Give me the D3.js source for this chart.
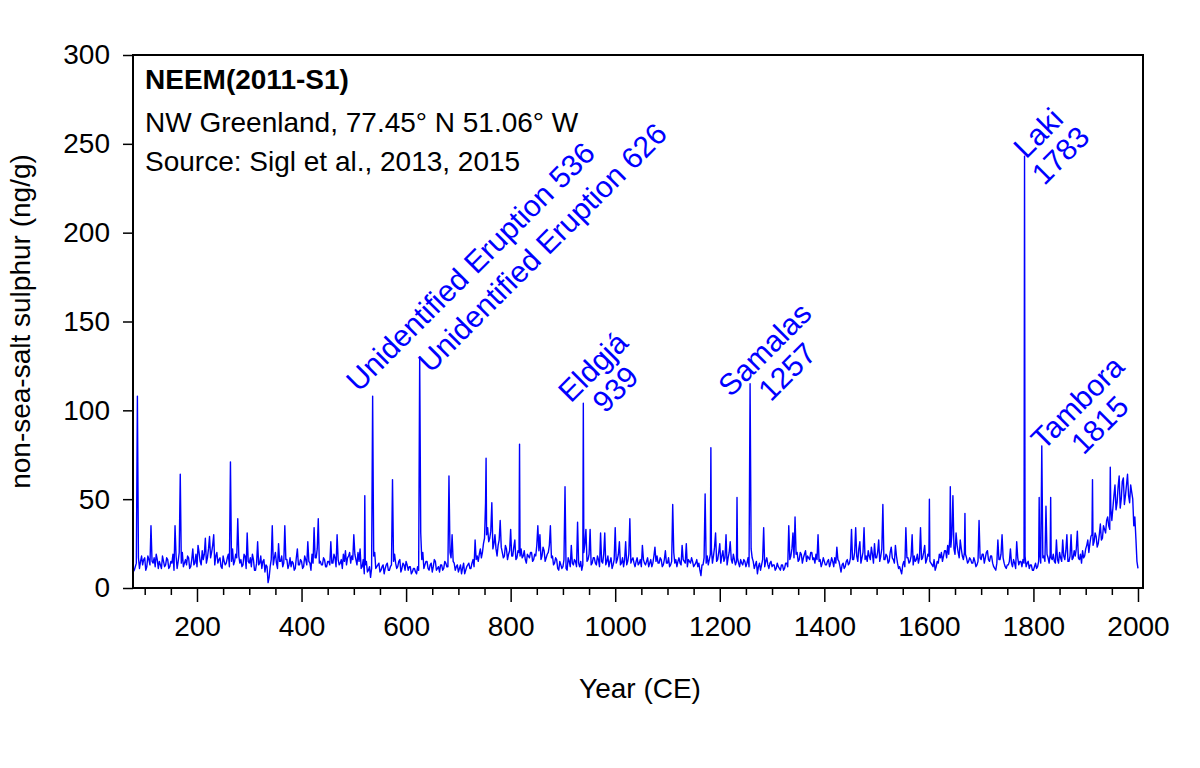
<!DOCTYPE html>
<html>
<head>
<meta charset="utf-8">
<script src="https://cdn.jsdelivr.net/npm/d3@7"></script>
<style>
  body { margin: 0; background: #fff; }
  text { font-family: "Liberation Sans", Arial, sans-serif; }
</style>
</head>
<body>
<div id="chart"></div>
<script>
// NEEM(2011-S1) nss sulphur
// readings every 4 years, one row per century (row start year in the name)
var r0080 = [10,14,17,15,13, 17,12,16,14,14, 12,16,15,11,15, 13,16,12,14,10, 18,15,18,20,14];
var r0180 = [13,17,12,22,14, 12,20,13,16,28, 17,29,20,30,18, 14,17,11,15,14, 19,20,22,15,17];
var r0280 = [18,16,13,18,31, 14,12,16,10,26, 14,11,16,13,3, 12,35,17,14,25, 15,12,35,16,13];
var r0380 = [12,14,11,22,13, 15,12,16,26,14, 19,34,17,39,15, 13,16,12,15,26, 14,17,30,13,16];
var r0480 = [19,21,17,20,18, 30,16,20,22,12, 8,15,10,6,14, 20,12,14,10,13, 11,14,10,13,15];
var r0580 = [14,12,16,11,13, 15,10,12,9,11, 8,10,31,20,13, 15,10,14,12,15, 11,9,13,11,14];
var r0680 = [12,20,30,14,12, 9,13,11,8,12, 14,11,16,27,18, 19,17,25,48,34, 28,48,25,22,24];
var r0780 = [38,20,18,22,19, 33,18,27,17,20, 22,18,16,19,17, 20,16,18,35,30, 18,21,17,20,35];
var r0880 = [18,14,16,10,13, 12,14,10,15,24, 13,15,37,12,10, 20,33,16,33,14, 17,13,16,31,14];
var r0980 = [31,15,12,17,13, 34,16,26,14,12, 26,15,39,16,14, 15,13,16,24,14, 15,12,16,14,23];
var r1080 = [18,14,16,13,21, 14,12,15,20,16, 15,14,24,15,25, 16,14,15,13,16, 14,7,13,15,18];
var r1180 = [16,22,18,31,16, 25,18,15,30,17, 26,14,16,15,14, 16,13,15,14,12, 22,15,13,8,14];
var r1280 = [13,34,15,13,14, 12,13,11,12,10, 13,11,14,35,18, 31,40,20,16,19, 17,21,18,16,20];
var r1380 = [17,19,30,16,14, 15,13,16,14,15, 17,23,15,9,14, 12,16,14,33,16, 34,15,26,17,34];
var r1480 = [18,21,16,19,25, 17,27,18,20,16, 18,15,23,16,24, 14,12,8,15,34, 17,15,30,18,16];
var r1580 = [14,34,17,24,16, 18,14,12,10,15, 19,20,18,21,24, 28,30,22,31,20, 27,18,20,17,15];
var r1680 = [16,14,15,13,38, 16,19,17,21,15, 18,12,10,27,16, 30,14,11,13,22, 12,14,26,13,15];
var r1780 = [16,18,14,11,13, 10,14,12,20,22, 18,20,17,19,16, 15,27,14,17,27, 16,30,15,30,17];
var r1880 = [18,32,16,14,17, 22,27,25,30,26, 29,25,36,28,33, 38,35,45,45,58, 48,63,50,62,52];
var r1980 = [64,48,54,35,28,11];

// in-between readings, 2 years after each of the above
var m0082 = [12,19,11,18,16, 10,18,13,15,17, 19,11,13,18,12, 17,11,15,19,13, 11,20,14,12,16];
var m0182 = [18,11,16,13,19, 24,15,21,19,14, 22,17,24,13,20, 16,12,18,13,17, 12,15,13,19,12];
var m0282 = [14,12,19,11,15, 17,19,10,14,13, 18,15,9,12,6, 16,13,20,11,15, 18,14,16,11,17];
var m0382 = [15,10,17,13,16, 11,18,13,15,10, 14,17,22,14,13, 17,12,15,13,14, 19,12,16,14,11];
var m0482 = [15,13,18,14,16, 19,13,15,11,16, 13,9,12,11,18, 11,13,9,12,8, 13,10,12,9,19];
var m0582 = [11,15,9,14,10, 13,12,8,11,9, 12,7,16,11,15, 11,13,9,16,10, 12,13,10,15,12];
var m0682 = [14,17,15,10,13, 11,8,14,10,13, 11,14,12,16,15, 22,20,28,30,26, 32,22,30,18,27];
var m0782 = [23,17,24,16,21, 18,23,16,21,18, 17,21,14,18,20, 15,19,24,21,16, 23,15,19,24,17];
var m0882 = [13,17,11,15,11, 16,11,17,12,14, 16,12,14,15,13, 25,15,19,13,17, 14,18,12,15,19];
var m0982 = [13,18,15,11,16, 14,19,13,17,16, 13,19,14,17,12, 17,14,12,16,13, 17,14,12,18,15];
var m1082 = [14,17,12,16,14, 17,13,16,14,12, 17,13,16,14,12, 15,17,12,14,12, 10,13,17,14,13];
var m1182 = [19,14,23,15,20, 14,21,17,13,20, 16,19,13,17,12, 14,16,12,17,13, 17,11,15,12,10];
var m1282 = [16,12,17,11,15, 13,10,14,11,13, 10,14,12,16,22, 17,19,15,20,14, 19,15,17,20,16];
var m1382 = [14,16,15,12,17, 13,15,12,17,12, 14,16,12,13,11, 15,13,17,16,20, 18,22,14,20,16];
var m1482 = [15,18,23,14,17, 20,15,22,16,19, 14,20,17,14,18, 11,10,13,12,17, 14,18,13,15,19];
var m1582 = [17,16,20,14,19, 15,13,16,12,14, 17,15,21,17,19, 23,26,19,24,17, 22,16,19,14,17];
var m1682 = [14,17,12,15,17, 19,14,20,16,18, 14,11,14,16,19, 17,12,13,15,14, 16,11,17,15,12];
var m1782 = [14,12,15,13,10, 12,11,15,14,17, 15,19,14,17,19, 14,16,20,15,18, 21,15,18,16,21];
var m1882 = [22,17,19,21,18, 24,20,29,24,31, 23,30,27,35,31, 40,33,38,52,44, 57,45,60,47,58];
var m1982 = [52,58,50,40,15];

var rows = [r0080,r0180,r0280,r0380,r0480,r0580,r0680,r0780,r0880,r0980,
            r1080,r1180,r1280,r1380,r1480,r1580,r1680,r1780,r1880,r1980];
var midRows = [m0082,m0182,m0282,m0382,m0482,m0582,m0682,m0782,m0882,m0982,
               m1082,m1182,m1282,m1382,m1482,m1582,m1682,m1782,m1882,m1982];
var rowStart = [80,180,280,380,480,580,680,780,880,980,
                1080,1180,1280,1380,1480,1580,1680,1780,1880,1980];
var rowStep = 4;

// single-year readings (volcanic peaks and the first year)
var annualYears  = [78, 86, 112, 158, 168, 264, 278, 521, 536, 574, 626, 682, 753, 817, 904, 939, 1110,
                    1172, 1183, 1233, 1258, 1512, 1601, 1641, 1646, 1669, 1783, 1811, 1816, 1824, 1833, 1913, 1947];
var annualValues = [9, 108, 35, 35, 64, 71, 39, 52, 108, 61, 130, 63, 73, 81, 57, 104, 47,
                    53, 79, 51, 115, 47, 50, 57, 52, 42, 243, 51, 80, 46, 51, 61, 68];

var eventText = [["Unidentified Eruption 536"], ["Unidentified Eruption 626"], ["Eldgjá","939"],
                 ["Samalas","1257"], ["Laki","1783"], ["Tambora","1815"]];
var eventYear = [536, 626, 939, 1258, 1783, 1816];
var eventPeak = [108, 130, 104, 115, 243, 80];

var xMajor = [200,400,600,800,1000,1200,1400,1600,1800,2000];
var yTicks = [0,50,100,150,200,250,300];

// build the series
var byYear = new Map();
rows.forEach(function(r, i){
    r.forEach(function(v, j){ byYear.set(rowStart[i] + j*rowStep, v); });
});
midRows.forEach(function(r, i){
    r.forEach(function(v, j){ byYear.set(rowStart[i] + 2 + j*rowStep, v); });
});
annualYears.forEach(function(yr, i){ byYear.set(yr, annualValues[i]); });
var series = Array.from(byYear, function(e){ return {year:e[0], value:e[1]}; })
    .sort(function(a,b){ return a.year - b.year; });

var margin = {top:55, bottom:180, left:133, right:57};
var W = 1200, H = 768;
var width = W - margin.left - margin.right;
var height = H - margin.top - margin.bottom;

var svg = d3.select("#chart")
    .append("svg")
    .attr("width", W)
    .attr("height", H)
    .append("g")
    .attr("transform", "translate(" + margin.left + "," + margin.top + ")");

var x = d3.scaleLinear().domain([77.6, 2009.6]).range([0, width]);
var y = d3.scaleLinear().domain([0, 300]).range([height, 0]);

// minor x ticks every 50 years
var xMinor = d3.range(100, 2001, 50).filter(function(d){ return d % 200 != 0; });
svg.append("g")
    .attr("transform", "translate(0," + height + ")")
    .call(d3.axisBottom(x).tickValues(xMinor).tickSize(7).tickFormat(""))
    .call(function(g){ g.select(".domain").remove(); })
    .selectAll("line").attr("stroke", "#000").attr("stroke-width", 1.5);

var xAxis = svg.append("g")
    .attr("transform", "translate(0," + height + ")")
    .call(d3.axisBottom(x).tickValues(xMajor).tickSize(14).tickPadding(14).tickFormat(d3.format("d")));
xAxis.select(".domain").remove();
xAxis.selectAll("line").attr("stroke", "#000").attr("stroke-width", 1.5);
xAxis.selectAll("text").attr("font-size", 28).attr("fill", "#000")
    .attr("font-family", "Liberation Sans, Arial, sans-serif");

var yAxis = svg.append("g")
    .call(d3.axisLeft(y).tickValues(yTicks).tickSize(10).tickPadding(13));
yAxis.select(".domain").remove();
yAxis.selectAll("line").attr("stroke", "#000").attr("stroke-width", 1.5);
yAxis.selectAll("text").attr("font-size", 28).attr("fill", "#000")
    .attr("font-family", "Liberation Sans, Arial, sans-serif");

// data line
var line = d3.line()
    .x(function(d){ return x(d.year); })
    .y(function(d){ return y(d.value); });

svg.append("path")
    .datum(series)
    .attr("d", line)
    .attr("fill", "none")
    .attr("stroke", "#0000ff")
    .attr("stroke-width", 1.4)
    .attr("stroke-linejoin", "round");

// frame
svg.append("rect")
    .attr("width", width)
    .attr("height", height)
    .attr("fill", "none")
    .attr("stroke", "#000")
    .attr("stroke-width", 2);

// header text
svg.append("text").attr("x", 12).attr("y", 34)
    .attr("font-size", 28).attr("font-weight", "bold")
    .text("NEEM(2011-S1)");
svg.append("text").attr("x", 12).attr("y", 77)
    .attr("font-size", 28)
    .text("NW Greenland, 77.45° N 51.06° W");
svg.append("text").attr("x", 12).attr("y", 116)
    .attr("font-size", 28)
    .text("Source: Sigl et al., 2013, 2015");

// axis titles
svg.append("text")
    .attr("x", width/2 + 2)
    .attr("y", height + 110)
    .attr("text-anchor", "middle")
    .attr("font-size", 28)
    .text("Year (CE)");

svg.append("text")
    .attr("transform", "rotate(-90)")
    .attr("x", -height/2)
    .attr("y", -103)
    .attr("text-anchor", "middle")
    .attr("font-size", 28)
    .text("non-sea-salt sulphur (ng/g)");

// eruption labels, offset from the peak in pixels
var labelOffset = [[-14,-3,"start"], [11,17,"start"], [17,-29,"middle"],
                   [22,-27,"middle"], [21,-16,"middle"], [43,-36,"middle"]];

eventText.forEach(function(lines, i){
    var px = x(eventYear[i]) + labelOffset[i][0];
    var py = y(eventPeak[i]) + labelOffset[i][1];
    var t = svg.append("text")
        .attr("transform", "translate(" + px + "," + py + ") rotate(-45)")
        .attr("text-anchor", labelOffset[i][2])
        .attr("font-size", 30)
        .attr("fill", "#0000ff");
    lines.forEach(function(s, k){
        t.append("tspan").attr("x", 0).attr("dy", k == 0 ? 0 : "1.05em").text(s);
    });
});
</script>
</body>
</html>
